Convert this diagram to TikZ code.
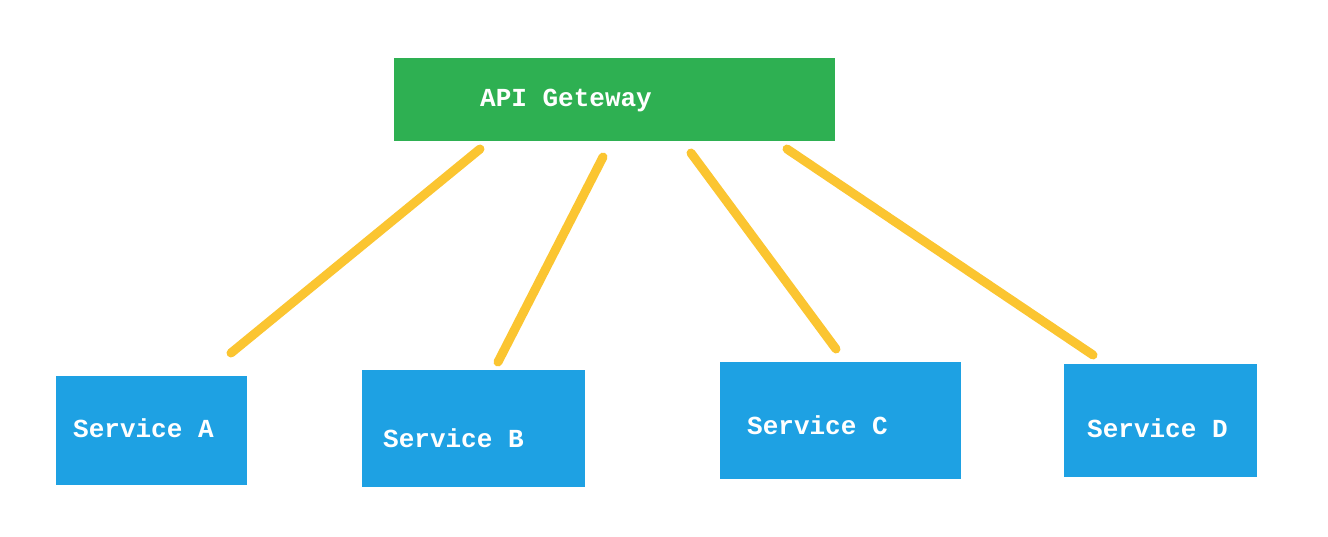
\documentclass[tikz,border=0pt]{standalone}
\usepackage{fontspec}
\setmonofont{Liberation Mono}
\definecolor{gwgreen}{HTML}{2EB052}
\definecolor{svcblue}{HTML}{1EA1E3}
\definecolor{linkyellow}{HTML}{FBC531}
\begin{document}
\begin{tikzpicture}[
		x=1pt,y=-1pt,
		box/.style={inner sep=0pt,draw=none},
		gwbox/.style={box,fill=gwgreen,minimum width=441pt,minimum height=83pt},
		svcbox/.style={box,fill=svcblue},
		lbl/.style={anchor=west,inner sep=0pt,text=white,font=\ttfamily\bfseries\fontsize{26}{30}\selectfont},
		link/.style={draw=linkyellow,line width=9pt,line cap=round},
	]
	\useasboundingbox (0,0) rectangle (1328,536);
	% gateway
	\node[gwbox] (gw) at (614.5,99.5) {};
	\node[lbl] (gwtext) at (480,100) {API Geteway};
	% services
	\node[svcbox,minimum width=191pt,minimum height=109pt] (svcA) at (151.5,430.5) {};
	\node[svcbox,minimum width=223pt,minimum height=117pt] (svcB) at (473.5,428.5) {};
	\node[svcbox,minimum width=241pt,minimum height=117pt] (svcC) at (840.5,420.5) {};
	\node[svcbox,minimum width=193pt,minimum height=113pt] (svcD) at (1160.5,420.5) {};
	\node[lbl] (svcAtext) at (73,428) {Service A};
	\node[lbl] (svcBtext) at (383,438) {Service B};
	\node[lbl] (svcCtext) at (747,425) {Service C};
	\node[lbl] (svcDtext) at (1087,428) {Service D};
	% link ends
	\coordinate (gwA) at (480,149);
	\coordinate (gwB) at (603,157);
	\coordinate (gwC) at (691,153);
	\coordinate (gwD) at (787,149);
	\coordinate (topA) at (231,353);
	\coordinate (topB) at (498,362);
	\coordinate (topC) at (836,349);
	\coordinate (topD) at (1093,355);
	\foreach \s in {A,B,C,D}
		\draw[link] (gw\s) -- (top\s);
\end{tikzpicture}
\end{document}
